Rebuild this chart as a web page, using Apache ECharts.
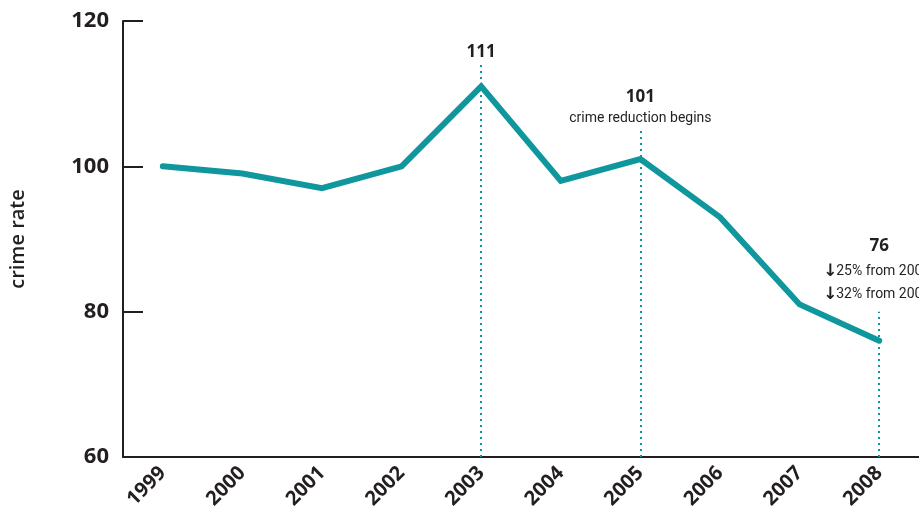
<!DOCTYPE html>
<html>
<head>
<meta charset="utf-8">
<script src="https://cdn.jsdelivr.net/npm/echarts@6/dist/echarts.min.js"></script>
<style>
  html, body { margin: 0; padding: 0; background: #fff; }
  #chart { width: 919px; height: 521px; }
</style>
</head>
<body>
<div id="chart"></div>
<script>
// data
var years = ["1999", "2000", "2001", "2002", "2003", "2004", "2005", "2006", "2007", "2008"];
var crimeRate = [100, 99, 97, 100, 111, 98, 101, 93, 81, 76];

// y axis range
var yMin = 60, yMax = 120, yStep = 20;

// dotted marker lines: year, top value
var markYears = ["2003", "2005", "2008"];
var markTops = [114.4, 104.9, 80];

// annotation texts
var peakText = "111";
var turnText = "101";
var turnNote = "crime reduction begins";
var lastText = "76";
var lastNotes = ["25% from 2005", "32% from 2003"];

var ink = "#231f20";
var teal = "#10979d";
var boldFont = "'Open Sans', 'Noto Sans', sans-serif";
var narrowFont = "'Roboto', sans-serif";

var myChart = echarts.init(document.getElementById("chart"));

var lineData = markYears.map(function (y, i) {
  return [{ coord: [y, yMin] }, { coord: [y, markTops[i]] }];
});

var option = {
  backgroundColor: "#fff",
  animation: false,
  grid: { left: 123, right: 0, top: 21, bottom: 64, containLabel: false },
  xAxis: {
    type: "category",
    data: years,
    boundaryGap: true,
    axisLine: { lineStyle: { color: ink, width: 2 } },
    axisTick: { inside: true, length: 10, lineStyle: { color: ink, width: 2 } },
    axisLabel: {
      rotate: 45,
      margin: 13,
      color: ink,
      fontSize: 20,
      fontWeight: "bold",
      fontFamily: boldFont
    }
  },
  yAxis: {
    type: "value",
    min: yMin,
    max: yMax,
    interval: yStep,
    name: "crime rate",
    nameLocation: "middle",
    nameRotate: 90,
    nameGap: 95,
    nameTextStyle: { color: ink, fontSize: 20, fontWeight: 600, fontFamily: boldFont },
    axisLine: { show: true, lineStyle: { color: ink, width: 2 } },
    axisTick: { show: true, inside: true, length: 20, lineStyle: { color: ink, width: 2 } },
    splitLine: { show: false },
    axisLabel: {
      margin: 14,
      color: ink,
      fontSize: 22,
      fontWeight: "bold",
      fontFamily: boldFont
    }
  },
  series: [
    {
      type: "line",
      data: crimeRate,
      showSymbol: false,
      smooth: false,
      lineStyle: { color: teal, width: 6, join: "miter", cap: "round" },
      markLine: {
        silent: true,
        symbol: "none",
        label: { show: false },
        lineStyle: { color: teal, width: 2, type: [2, 4], cap: "butt" },
        data: lineData
      },
      markPoint: {
        silent: true,
        symbol: "circle",
        symbolSize: 0,
        data: [
          {
            coord: [markYears[0], markTops[0]],
            label: {
              show: true, position: "top", distance: 1,
              formatter: peakText,
              color: ink, fontSize: 17, fontWeight: "bold", fontFamily: boldFont
            }
          },
          {
            coord: [markYears[1], markTops[1]],
            label: {
              show: true, position: "top", distance: 2,
              formatter: "{n|" + turnText + "}\n{t|" + turnNote + "}",
              rich: {
                n: { color: ink, fontSize: 17, fontWeight: "bold", fontFamily: boldFont, lineHeight: 24, align: "center" },
                t: { color: ink, fontSize: 14, fontFamily: narrowFont, lineHeight: 20, align: "center" }
              }
            }
          },
          {
            coord: [markYears[2], markTops[2]],
            label: {
              show: true, position: "top", distance: 2, offset: [0, -55],
              formatter: lastText,
              color: ink, fontSize: 17, fontWeight: "bold", fontFamily: boldFont
            }
          },
          {
            coord: [markYears[2], markTops[2]],
            label: {
              show: true, position: "top", distance: 6, offset: [-56, 0],
              align: "left",
              formatter: lastNotes.map(function (t) { return "{a|\u2193}{t|" + t + "}"; }).join("\n"),
              rich: {
                a: { color: ink, fontSize: 17, fontWeight: "bold", fontFamily: "DejaVu Sans", lineHeight: 23, width: 13 },
                t: { color: ink, fontSize: 14, fontFamily: narrowFont, lineHeight: 23 }
              }
            }
          }
        ]
      }
    }
  ]
};

myChart.setOption(option);
</script>
</body>
</html>
